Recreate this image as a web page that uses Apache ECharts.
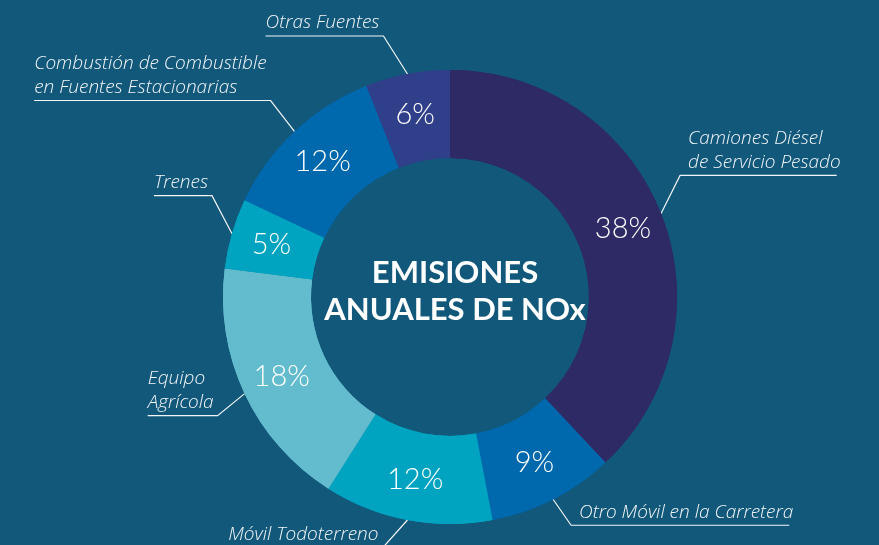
<!DOCTYPE html>
<html>
<head>
<meta charset="utf-8">
<script src="https://cdn.jsdelivr.net/npm/echarts@6/dist/echarts.min.js"></script>
<style>
  body { margin: 0; background: #12587b; }
  #main { width: 879px; height: 545px; }
</style>
</head>
<body>
<div id="main"></div>
<script>
// categorias, en sentido horario desde arriba
const categorias = [
  "Camiones Diésel\nde Servicio Pesado",
  "Otro Móvil en la Carretera",
  "Móvil Todoterreno",
  "Equipo\nAgrícola",
  "Trenes",
  "Combustión de Combustible\nen Fuentes Estacionarias",
  "Otras Fuentes"
];
// porcentaje de emisiones anuales de NOx
const porcentajes = [38, 9, 12, 18, 5, 12, 6];
const colores = ["#2e2a66", "#0068ad", "#00a3c0", "#62bccd", "#00a3c0", "#0068ad", "#2f3f8a"];

// desplazamiento del primer tramo de la línea guía (dx, dy)
const guia = [[19, 38], [18, 26], [25, 28], [27, 22], [20, 38], [24, 31], [24, 38]];

const cx = 450, cy = 297;

let myChart = echarts.init(document.getElementById("main"));

let datos = categorias.map((n, i) => ({
  name: n,
  value: porcentajes[i],
  itemStyle: { color: colores[i] }
}));

let option = {
  animation: false,
  backgroundColor: "#12587b",
  title: {
    text: "EMISIONES\nANUALES DE NOx",
    left: cx,
    top: 249,
    textAlign: "center",
    textStyle: {
      color: "#ffffff",
      fontFamily: "Lato",
      fontWeight: "bold",
      fontSize: 31,
      lineHeight: 37
    }
  },
  series: [
    {
      type: "pie",
      center: [cx, cy],
      radius: [139, 227],
      startAngle: 90,
      clockwise: true,
      avoidLabelOverlap: false,
      silent: true,
      label: {
        show: true,
        position: "inside",
        formatter: "{c}%",
        color: "#ffffff",
        fontFamily: "Lato",
        fontWeight: 300,
        fontSize: 29
      },
      labelLine: { show: false },
      data: datos
    },
    {
      // serie transparente solo para las etiquetas exteriores
      type: "pie",
      center: [cx, cy],
      radius: [139, 227],
      startAngle: 90,
      clockwise: true,
      avoidLabelOverlap: false,
      silent: true,
      itemStyle: { color: "rgba(0,0,0,0)" },
      label: {
        show: true,
        position: "outside",
        formatter: "{b}",
        color: "#f2f6f8",
        fontFamily: "Open Sans",
        fontStyle: "italic",
        fontWeight: 300,
        fontSize: 19,
        lineHeight: 24
      },
      labelLine: {
        show: true,
        length: 20,
        length2: 20,
        lineStyle: { color: "#f2f6f8", width: 1.2 }
      },
      labelLayout: function (params) {
        const p0 = params.labelLinePoints[0];
        const g = guia[params.dataIndex];
        const sx = p0[0] < cx ? -1 : 1;
        const sy = p0[1] < cy ? -1 : 1;
        const p1 = [p0[0] + sx * g[0], p0[1] + sy * g[1]];
        const w = params.labelRect.width + 4;
        const p2 = [p1[0] + sx * w, p1[1]];
        return {
          x: sx < 0 ? p2[0] : p1[0] + 8,
          y: p1[1] - 1,
          align: "left",
          verticalAlign: "bottom",
          labelLinePoints: [p0, p1, p2]
        };
      },
      data: datos
    }
  ]
};

myChart.setOption(option);
</script>
</body>
</html>
